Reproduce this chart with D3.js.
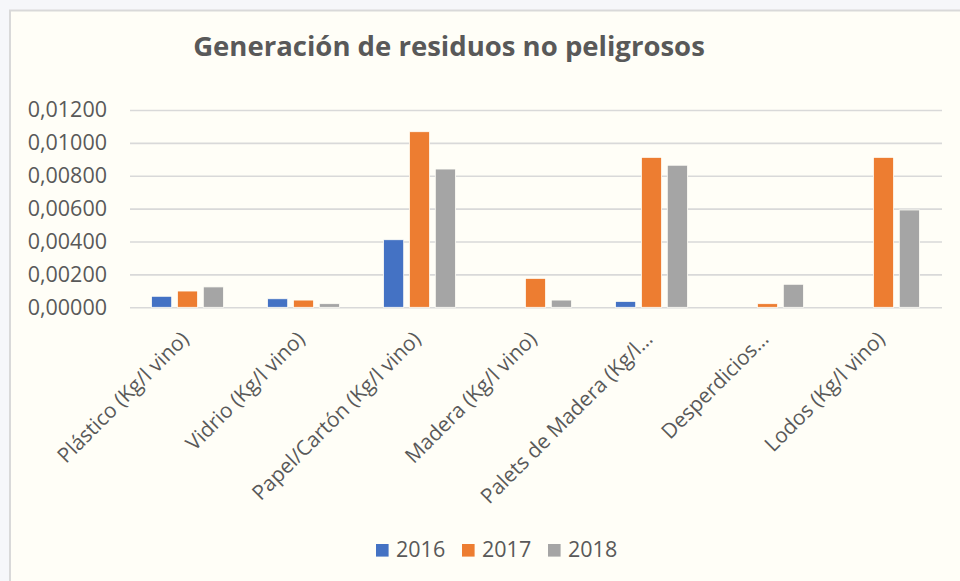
<!DOCTYPE html>
<html>
<head>
<meta charset="utf-8">
<script src="https://cdn.jsdelivr.net/npm/d3@7.9.0/dist/d3.min.js"></script>
<style>
  body { margin: 0; background: #f6f7fa; }
  text { font-family: "Open Sans", sans-serif; fill: #595959; }
</style>
</head>
<body>
<div id="chart"></div>
<script>
const categories = [
  "Plástico (Kg/l vino)",
  "Vidrio (Kg/l vino)",
  "Papel/Cartón (Kg/l vino)",
  "Madera (Kg/l vino)",
  "Palets de Madera (Kg/l…",
  "Desperdicios…",
  "Lodos (Kg/l vino)"
];
const years = ["2016", "2017", "2018"];
const values2016 = [0.00067, 0.00052, 0.00411, 0, 0.00036, 0, 0];
const values2017 = [0.00099, 0.00044, 0.01068, 0.00176, 0.00912, 0.00022, 0.00912];
const values2018 = [0.00124, 0.00022, 0.00841, 0.00044, 0.00864, 0.00140, 0.00592];
const yTicks = [0, 0.002, 0.004, 0.006, 0.008, 0.010, 0.012];
const colors = ["#4472c4", "#ed7d31", "#a5a5a5"];

const series = [values2016, values2017, values2018];
const rows = categories.map((c, i) => ({
  cat: c,
  vals: years.map((y, j) => ({ year: y, value: series[j][i] }))
}));

const W = 960, H = 581;
const plot = { left: 130, right: 942, top: 110, bottom: 307.3 };

const svg = d3.select("#chart").append("svg")
  .attr("width", W)
  .attr("height", H);

// chart frame
svg.append("rect")
  .attr("x", 10).attr("y", 10.5)
  .attr("width", W + 20).attr("height", H + 20)
  .attr("fill", "#fffef7")
  .attr("stroke", "#d9d9d9")
  .attr("stroke-width", 2);

// title
const title = svg.append("text")
  .attr("x", 449)
  .attr("y", 56)
  .attr("text-anchor", "middle")
  .attr("font-size", 28)
  .attr("font-weight", 700)
  .text("Generación de residuos no peligrosos");
// scale font so the title width matches the picture
const tw = title.node().getComputedTextLength();
title.attr("font-size", 28 * 512 / tw);

const x0 = d3.scaleBand()
  .domain(categories)
  .range([plot.left, plot.right]);

const x1 = d3.scaleBand()
  .domain(years)
  .range([21.5, x0.bandwidth() - 22.5])
  .paddingInner(0.22);

const y = d3.scaleLinear()
  .domain([0, 0.012])
  .range([plot.bottom, plot.top]);

// y axis + gridlines
const yAxis = svg.append("g")
  .attr("transform", `translate(${plot.left}, 0)`)
  .call(d3.axisLeft(y)
    .tickValues(yTicks)
    .tickSize(-(plot.right - plot.left))
    .tickPadding(23)
    .tickFormat(d => d3.format(".5f")(d).replace(".", ",")));

yAxis.select(".domain").remove();
yAxis.selectAll(".tick line")
  .attr("stroke", "#d9d9d9")
  .attr("stroke-width", 1.6);
yAxis.selectAll(".tick text")
  .attr("font-size", 21.5)
  .attr("font-family", "Open Sans")
  .attr("fill", "#595959");

// bars
const groups = svg.append("g")
  .selectAll("g")
  .data(rows)
  .join("g")
    .attr("transform", d => `translate(${x0(d.cat)}, 0)`);

groups.selectAll("rect")
  .data(d => d.vals.filter(v => v.value > 0))
  .join("rect")
    .attr("x", d => x1(d.year))
    .attr("width", x1.bandwidth())
    .attr("y", d => y(d.value))
    .attr("height", d => y(0) - y(d.value))
    .attr("fill", d => colors[years.indexOf(d.year)])
    .attr("stroke", "#fffef7")
    .attr("stroke-width", 0.8);

// category labels, rotated
const xAxis = svg.append("g")
  .attr("transform", `translate(0, ${plot.bottom})`)
  .call(d3.axisBottom(x0).tickSize(0));

xAxis.select(".domain").remove();
xAxis.selectAll(".tick text")
  .attr("font-size", 20.8)
  .attr("font-family", "Open Sans")
  .attr("fill", "#595959")
  .attr("text-anchor", "end")
  .attr("dy", 0)
  .attr("y", 0)
  .attr("transform", "translate(2, 33) rotate(-45)");

// legend
const legend = svg.append("g")
  .selectAll("g")
  .data(years)
  .join("g")
    .attr("transform", (d, i) => `translate(${376 + i * 86}, 544)`);

legend.append("rect")
  .attr("width", 12.6)
  .attr("height", 12.6)
  .attr("fill", (d, i) => colors[i]);

legend.append("text")
  .attr("x", 20)
  .attr("y", 12.7)
  .attr("font-size", 21.5)
  .text(d => d);
</script>
</body>
</html>
